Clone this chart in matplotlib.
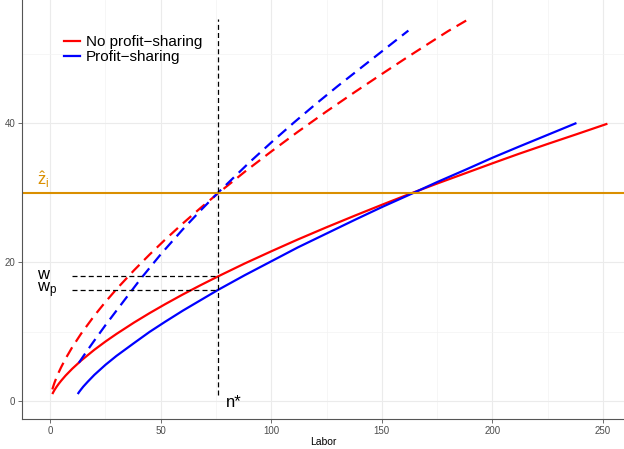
import matplotlib
matplotlib.use('Agg')
import matplotlib.pyplot as plt
from matplotlib.lines import Line2D

plt.rcParams['font.family'] = ['Liberation Sans', 'DejaVu Sans']
plt.rcParams['mathtext.fontset'] = 'custom'
plt.rcParams['mathtext.rm'] = 'Liberation Sans'
plt.rcParams['mathtext.it'] = 'Liberation Sans'

# values
red_n = [1, 1.5, 2, 3, 4, 5, 7, 10, 14, 20, 25, 30, 38, 45, 52, 60, 68, 76,
         88, 100, 112, 125, 138, 150, 162, 175, 188, 200, 212, 225, 238, 252]
red_w = [1.0, 1.31, 1.59, 2.08, 2.52, 2.92, 3.66, 4.64, 5.81, 7.37, 8.55, 9.65,
         11.3, 12.65, 13.93, 15.33, 16.66, 17.94, 19.79, 21.54, 23.24, 25.0,
         26.7, 28.23, 29.73, 31.29, 32.8, 34.2, 35.57, 36.99, 38.38, 39.9]

red_mn = [1, 1.5, 2, 3, 4, 5, 7, 10, 14, 20, 25, 30, 38, 45, 52, 60, 68, 76,
          88, 100, 112, 125, 138, 150, 160, 170, 180, 189]
red_mw = [1.67, 2.18, 2.65, 3.47, 4.2, 4.87, 6.1, 7.74, 9.68, 12.28, 14.25,
          16.09, 18.83, 21.08, 23.22, 25.55, 27.77, 29.9, 32.98, 35.9, 38.73,
          41.67, 44.5, 47.05, 49.15, 51.2, 53.23, 54.9]

blue_n = [12.5, 13, 14, 15, 17, 20, 25, 30, 38, 45, 52, 60, 68, 76, 88, 100,
          112, 125, 138, 150, 164, 175, 188, 200, 212, 225, 238]
blue_w = [1.0, 1.25, 1.67, 2.07, 2.77, 3.76, 5.2, 6.49, 8.35, 9.95, 11.4, 13.0,
          14.5, 16.0, 18.1, 20.1, 22.1, 24.1, 26.1, 27.9, 29.9, 31.5, 33.3,
          35.0, 36.6, 38.3, 40.0]

blue_mn = [13, 16, 20, 25, 30, 35, 41, 50, 60, 68, 76, 90, 100, 110, 120, 130,
           140, 150, 162]
blue_mw = [5.5, 6.9, 8.7, 10.9, 13.0, 15.1, 17.6, 21.1, 24.7, 27.4, 30.0, 34.3,
           37.2, 40.0, 42.7, 45.3, 47.8, 50.3, 53.3]

z_hat = 30
n_star = 76
w_none = 18
w_prof = 16

fig = plt.figure(figsize=(6.24, 4.49), dpi=100)
ax = fig.add_axes([0.0353, 0.0668, 0.9647, 0.9332])

orange = '#DA8F00'
ax.plot(red_n, red_w, color='red', lw=1.6, solid_capstyle='butt')
ax.plot(blue_n, blue_w, color='blue', lw=1.6, solid_capstyle='butt')
ax.plot(red_mn, red_mw, color='red', lw=1.6, dashes=(5, 3))
ax.plot(blue_mn, blue_mw, color='blue', lw=1.6, dashes=(5, 3))
ax.axhline(z_hat, color=orange, lw=1.5)
ax.plot([n_star, n_star], [0.8, 55], color='black', lw=0.9, dashes=(4, 2.5))
ax.plot([10, n_star], [w_none, w_none], color='black', lw=0.9, dashes=(4, 2.5))
ax.plot([10, n_star], [w_prof, w_prof], color='black', lw=0.9, dashes=(4, 2.5))

ax.text(-5.8, z_hat + 0.3, r'$\hat{z}_i$', color=orange, fontsize=12,
        ha='left', va='bottom')
ax.text(-5.8, 17.55, 'w', fontsize=12, ha='left', va='baseline')
ax.text(-5.8, 15.7, r'$w_p$', fontsize=12, ha='left', va='baseline')
ax.text(79.5, -0.86, 'n*', fontsize=12, ha='left', va='baseline')

ax.set_xlim(-12.7, 259.5)
ax.set_ylim(-2.59, 57.7)
ax.set_xticks([0, 50, 100, 150, 200, 250])
ax.set_yticks([0, 20, 40])
ax.set_xticks([25, 75, 125, 175, 225], minor=True)
ax.set_yticks([10, 30, 50], minor=True)
ax.grid(which='major', color='#EBEBEB', lw=0.8)
ax.grid(which='minor', color='#F3F3F3', lw=0.5)
ax.set_axisbelow(True)
ax.tick_params(which='minor', length=0)
ax.tick_params(which='major', length=3, width=0.6, color='#555555',
               labelsize=7, labelcolor='#4D4D4D', pad=2)
for side in ['top', 'right']:
    ax.spines[side].set_visible(False)
for side in ['left', 'bottom']:
    ax.spines[side].set_color('#555555')
    ax.spines[side].set_linewidth(0.8)
ax.set_xlabel('Labor', fontsize=7.5, labelpad=1)

handles = [Line2D([], [], color='red', lw=1.6),
           Line2D([], [], color='blue', lw=1.6)]
ax.legend(handles, ['No profit\u2212sharing', 'Profit\u2212sharing'],
          loc='upper left', bbox_to_anchor=(0.06, 0.93), frameon=False,
          fontsize=11, handlelength=1.0, handletextpad=0.4, labelspacing=0.05,
          borderaxespad=0)

fig.savefig('out.png', dpi=100)
